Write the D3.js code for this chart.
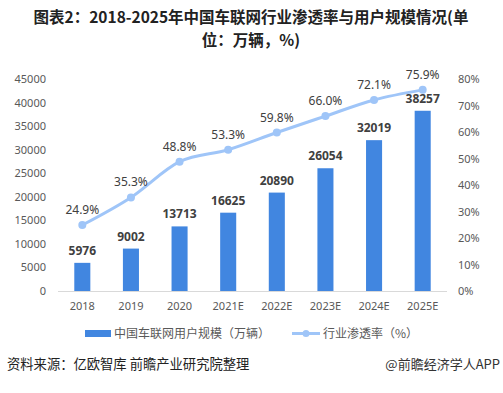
<!DOCTYPE html>
<html>
<head>
<meta charset="utf-8">
<script src="https://cdn.jsdelivr.net/npm/d3@7"></script>
<style>
  body { margin: 0; background: #fff; }
  svg { display: block; font-family: "Noto Sans CJK SC", "Noto Sans", sans-serif; }
</style>
</head>
<body>
<div id="chart"></div>
<script>
const years = ['2018', '2019', '2020', '2021E', '2022E', '2023E', '2024E', '2025E'];
const users = [5976, 9002, 13713, 16625, 20890, 26054, 32019, 38257];
const rate = [24.9, 35.3, 48.8, 53.3, 59.8, 66.0, 72.1, 75.9];
const leftTicks = [0, 5000, 10000, 15000, 20000, 25000, 30000, 35000, 40000, 45000];
const rightTicks = [0, 10, 20, 30, 40, 50, 60, 70, 80];
const titleLines = ['图表2：2018-2025年中国车联网行业渗透率与用户规模情况(单', '位：万辆，%)'];

const width = 503;
const height = 393;
const barColor = '#4186e0';
const lineColor = '#9fc5f8';

const svg = d3.select('#chart').append('svg')
  .attr('width', width)
  .attr('height', height);

// title, two separate lines
svg.append('g').selectAll('text')
  .data(titleLines)
  .join('text')
  .attr('x', 251)
  .attr('y', (d, i) => 23 + i * 23)
  .attr('text-anchor', 'middle')
  .attr('font-size', 15.5)
  .attr('font-weight', 'bold')
  .attr('fill', '#222')
  .text(d => d);

const x = d3.scaleBand().domain(years).range([58, 447]).paddingInner(0.67).paddingOuter(0.335);
const y = d3.scaleLinear().domain([0, 45000]).range([291, 79]);
const y2 = d3.scaleLinear().domain([0, 80]).range([291, 79]);

// left axis
svg.append('g')
  .attr('transform', 'translate(46,0)')
  .call(d3.axisLeft(y).tickValues(leftTicks).tickSize(0).tickPadding(0).tickFormat(d3.format('d')))
  .call(g => g.select('.domain').remove())
  .call(g => g.selectAll('text').attr('font-size', 11).attr('fill', '#595959')
    .attr('font-family', '"Noto Sans", sans-serif'));

// right axis
svg.append('g')
  .attr('transform', 'translate(458,0)')
  .call(d3.axisRight(y2).tickValues(rightTicks).tickSize(0).tickPadding(0).tickFormat(d => d + '%'))
  .call(g => g.select('.domain').remove())
  .call(g => g.selectAll('text').attr('font-size', 11).attr('fill', '#595959')
    .attr('font-family', '"Noto Sans", sans-serif'));

// bars
svg.append('g').selectAll('rect')
  .data(users)
  .join('rect')
  .attr('x', (d, i) => x(years[i]))
  .attr('y', d => y(d))
  .attr('width', x.bandwidth())
  .attr('height', d => y(0) - y(d))
  .attr('fill', barColor);

// baseline
svg.append('line')
  .attr('x1', 58).attr('x2', 447)
  .attr('y1', y(0) + 0.5).attr('y2', y(0) + 0.5)
  .attr('stroke', '#d9d9d9');

// x axis labels
svg.append('g')
  .attr('transform', `translate(0,${y(0)})`)
  .call(d3.axisBottom(x).tickSize(0).tickPadding(11))
  .call(g => g.select('.domain').remove())
  .call(g => g.selectAll('text').attr('font-size', 11).attr('fill', '#595959')
    .attr('font-family', '"Noto Sans", sans-serif'));

// bar value labels
svg.append('g').selectAll('text')
  .data(users)
  .join('text')
  .attr('x', (d, i) => x(years[i]) + x.bandwidth() / 2)
  .attr('y', d => y(d) - 8)
  .attr('text-anchor', 'middle')
  .attr('font-size', 12)
  .attr('font-weight', 'bold')
  .attr('fill', '#404040')
  .attr('font-family', '"Noto Sans", sans-serif')
  .text(d => d);

// line
const cx = (d, i) => x(years[i]) + x.bandwidth() / 2;
const line = d3.line()
  .x(cx)
  .y(d => y2(d))
  .curve(d3.curveMonotoneX);

svg.append('path')
  .datum(rate)
  .attr('d', line)
  .attr('fill', 'none')
  .attr('stroke', lineColor)
  .attr('stroke-width', 3)
  .attr('stroke-linecap', 'round');

svg.append('g').selectAll('circle')
  .data(rate)
  .join('circle')
  .attr('cx', cx)
  .attr('cy', d => y2(d))
  .attr('r', 4)
  .attr('fill', lineColor);

svg.append('g').selectAll('text')
  .data(rate)
  .join('text')
  .attr('x', cx)
  .attr('y', d => y2(d) - 11)
  .attr('text-anchor', 'middle')
  .attr('font-size', 12)
  .attr('fill', '#404040')
  .attr('font-family', '"Noto Sans", sans-serif')
  .text(d => d.toFixed(1) + '%');

// legend
const legend = svg.append('g').attr('font-size', 12).attr('fill', '#595959');
legend.append('rect')
  .attr('x', 85).attr('y', 330).attr('width', 26).attr('height', 7)
  .attr('fill', barColor);
legend.append('text')
  .attr('x', 114).attr('y', 338)
  .attr('fill', '#595959')
  .text('中国车联网用户规模（万辆）');
legend.append('line')
  .attr('x1', 292).attr('x2', 320).attr('y1', 333.5).attr('y2', 333.5)
  .attr('stroke', lineColor).attr('stroke-width', 3);
legend.append('circle')
  .attr('cx', 306).attr('cy', 333.5).attr('r', 3.5)
  .attr('fill', lineColor);
legend.append('text')
  .attr('x', 323).attr('y', 338)
  .attr('fill', '#595959')
  .text('行业渗透率（%）');

// footer
svg.append('text')
  .attr('x', 7).attr('y', 369)
  .attr('font-size', 13.3)
  .attr('fill', '#222')
  .text('资料来源：亿欧智库 前瞻产业研究院整理');
svg.append('text')
  .attr('x', 500).attr('y', 369)
  .attr('text-anchor', 'end')
  .attr('font-size', 13)
  .attr('fill', '#333')
  .text('@前瞻经济学人APP');
</script>
</body>
</html>
